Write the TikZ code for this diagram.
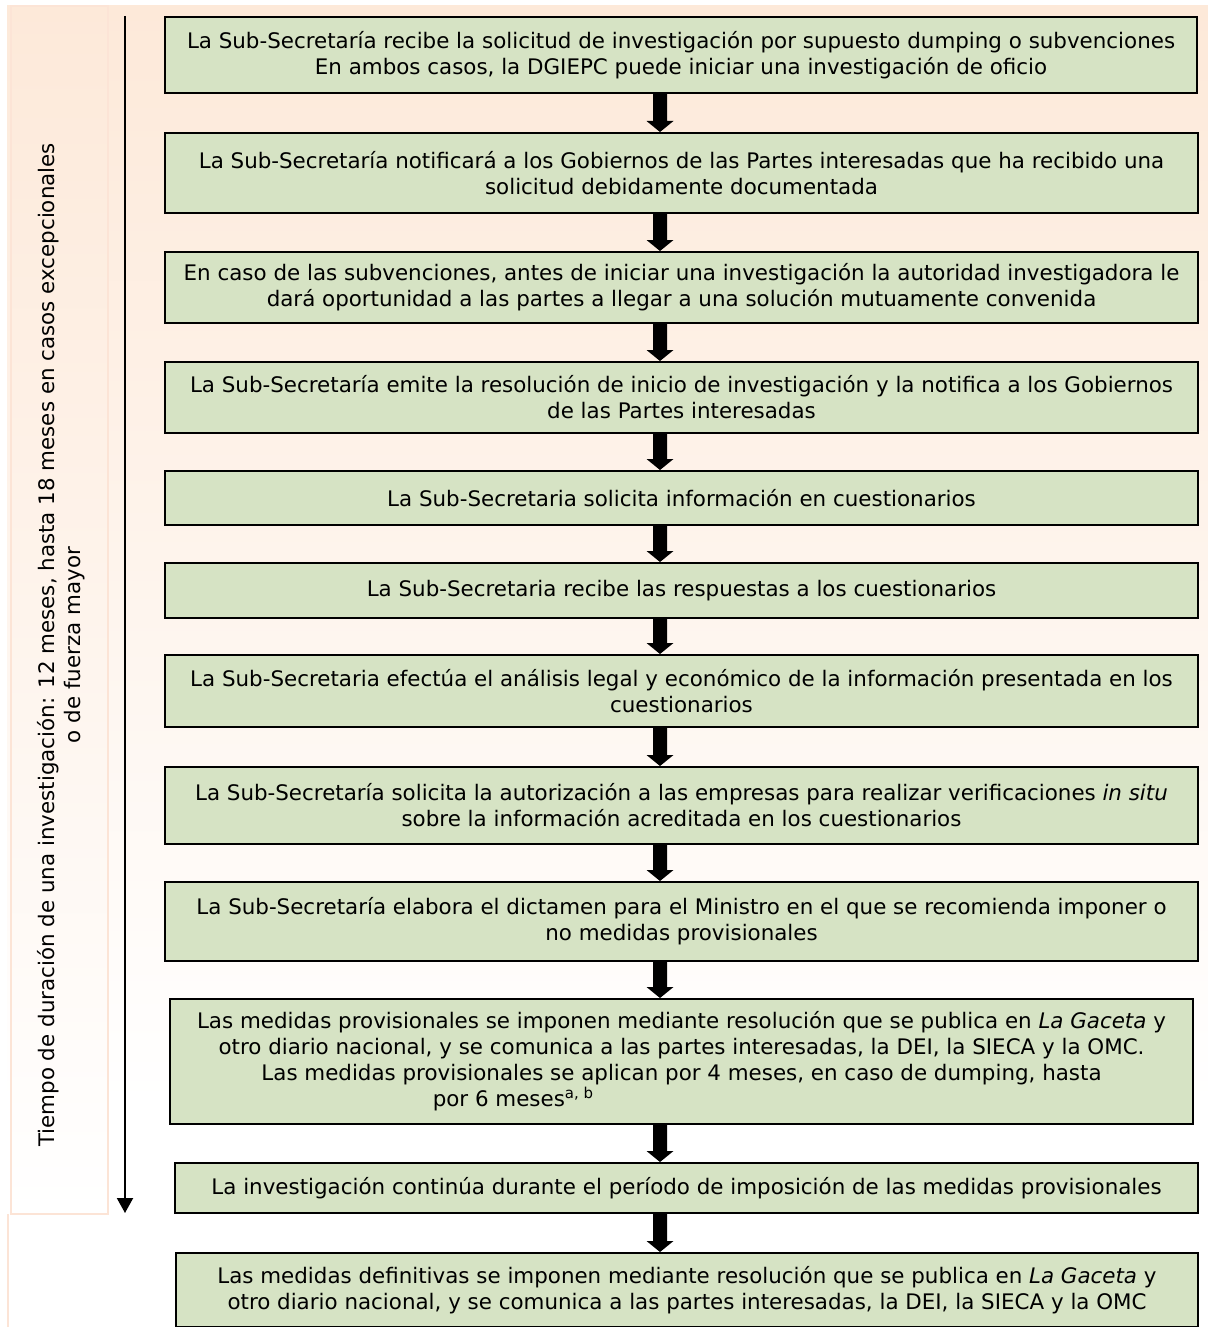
\documentclass[tikz,border=0pt]{standalone}
\usepackage{fontspec}
\setmainfont{DejaVu Sans}
\usetikzlibrary{arrows.meta,calc}
\definecolor{peach}{HTML}{FDE9D9}
\definecolor{peachline}{HTML}{FCE4D6}
\definecolor{boxgreen}{RGB}{214,227,196}
\begin{document}
\begin{tikzpicture}[x=0.5pt,y=-0.5pt,
  box/.style={draw=black, line width=1pt, fill=boxgreen, align=center, inner sep=0pt,
    font=\fontsize{10.7}{13}\selectfont},
  sidetext/.style={rotate=90, align=center, font=\fontsize{10.7}{13}\selectfont},
  timeline/.style={line width=1pt, -{Triangle[width=8pt,length=7.5pt]}}]
\useasboundingbox (0,0) rectangle (1208,1327);
\clip (0,0) rectangle (1208,1327);
% background
\shade[top color=peach, bottom color=white] (7,6) rectangle (1208,1105);
\shadedraw[top color=peach, bottom color=white, draw=peachline, line width=0.6pt] (11,6) rectangle (108,1214);
\draw[peachline, line width=0.6pt] (8,1214) -- (8,1340);
% side text and time arrow
\node[sidetext] (tl) at (61,645) {Tiempo de duración de una investigación: 12 meses, hasta 18 meses en casos excepcionales\\o de fuerza mayor};
\coordinate (tstart) at (125,16);
\coordinate (tend) at (125,1213);
\draw[timeline] (tstart) -- (tend);
% boxes
\node[box, minimum width=516pt, minimum height=38pt] (b1) at (681,55) {La Sub-Secretaría recibe la solicitud de investigación por supuesto dumping o subvenciones\\En ambos casos, la DGIEPC puede iniciar una investigación de oficio};
\node[box, minimum width=516.5pt, minimum height=40pt] (b2) at (681.5,173) {La Sub-Secretaría notificará a los Gobiernos de las Partes interesadas que ha recibido una\\solicitud debidamente documentada};
\node[box, minimum width=516.5pt, minimum height=35.5pt] (b3) at (681.5,287.5) {En caso de las subvenciones, antes de iniciar una investigación la autoridad investigadora le\\dará oportunidad a las partes a llegar a una solución mutuamente convenida};
\node[box, minimum width=516.5pt, minimum height=35.5pt] (b4) at (681.5,397.5) {La Sub-Secretaría emite la resolución de inicio de investigación y la notifica a los Gobiernos\\de las Partes interesadas};
\node[box, minimum width=516.5pt, minimum height=27pt] (b5) at (681.5,498) {La Sub-Secretaria solicita información en cuestionarios};
\node[box, minimum width=516.5pt, minimum height=27.5pt] (b6) at (681.5,590.5) {La Sub-Secretaria recibe las respuestas a los cuestionarios};
\node[box, minimum width=516.5pt, minimum height=36pt] (b7) at (681.5,691) {La Sub-Secretaria efectúa el análisis legal y económico de la información presentada en los\\cuestionarios};
\node[box, minimum width=516.5pt, minimum height=38.5pt] (b8) at (681.5,805.5) {La Sub-Secretaría solicita la autorización a las empresas para realizar verificaciones \textit{in situ}\\sobre la información acreditada en los cuestionarios};
\node[box, minimum width=516.5pt, minimum height=39.5pt] (b9) at (681.5,921.5) {La Sub-Secretaría elabora el dictamen para el Ministro en el que se recomienda imponer o\\no medidas provisionales};
\node[box, minimum width=511.5pt, minimum height=62.5pt] (b10) at (681.5,1061.5) {Las medidas provisionales se imponen mediante resolución que se publica en \textit{La Gaceta} y\\otro diario nacional, y se comunica a las partes interesadas, la DEI, la SIECA y la OMC.\\Las medidas provisionales se aplican por 4 meses, en caso de dumping, hasta\\por 6 meses\textsuperscript{a, b}\hspace*{168pt}\mbox{}};
\node[box, minimum width=511.5pt, minimum height=25pt] (b11) at (686.5,1188) {La investigación continúa durante el período de imposición de las medidas provisionales};
\node[box, minimum width=511pt, minimum height=37pt] (b12) at (687,1290) {Las medidas definitivas se imponen mediante resolución que se publica en \textit{La Gaceta} y\\otro diario nacional, y se comunica a las partes interesadas, la DEI, la SIECA y la OMC};
% block arrows
\coordinate (ax) at (660,0);
\foreach \a/\b in {b1/b2,b2/b3,b3/b4,b4/b5,b5/b6,b6/b7,b7/b8,b8/b9,b9/b10,b10/b11,b11/b12}{
  \fill[black] ($(\a.south -| ax)+(-7,0)$) -- ($(\b.north -| ax)+(-7,-11)$)
    -- ($(\b.north -| ax)+(-13.5,-11)$) -- (\b.north -| ax)
    -- ($(\b.north -| ax)+(13.5,-11)$) -- ($(\b.north -| ax)+(7,-11)$)
    -- ($(\a.south -| ax)+(7,0)$) -- cycle;
}
\end{tikzpicture}
\end{document}
